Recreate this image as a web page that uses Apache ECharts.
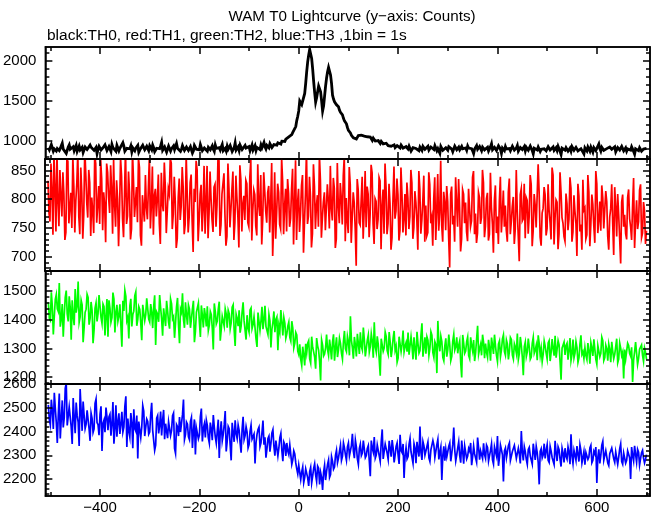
<!DOCTYPE html>
<html><head><meta charset="utf-8">
<script src="https://cdn.jsdelivr.net/npm/echarts@6/dist/echarts.min.js"></script>
<style>html,body{margin:0;padding:0;background:#fff}#c{width:652px;height:515px}</style>
</head><body><div id="c"></div>
<script>
const TITLE = 'WAM T0 Lightcurve (y\u2212axis: Counts)';
const SUBTITLE = 'black:TH0, red:TH1, green:TH2, blue:TH3 ,1bin = 1s';
const T_START = -504, T_STEP = 2;

const TH0 = [
912,885,880,951,934,869,897,920,871,902,925,876,903,937,968,894,889,915,842,861,
921,947,893,876,910,925,874,899,939,868,900,933,885,906,917,853,862,921,930,890,
896,872,944,918,908,941,879,897,915,838,891,930,927,884,870,912,903,949,936,878,
884,926,909,864,952,913,898,890,868,941,922,873,905,919,887,975,931,868,876,905,
915,889,899,934,861,910,928,874,907,925,941,856,883,902,897,942,919,887,872,930,
903,876,935,919,888,945,912,863,870,906,925,891,899,934,979,880,891,922,908,857,
879,932,918,870,901,916,935,889,866,964,905,912,927,867,893,938,913,878,882,920,
940,879,897,925,911,845,873,940,922,893,904,917,886,951,931,874,899,908,915,888,
868,917,926,887,907,936,893,867,945,904,880,929,912,883,921,952,874,898,903,871,
931,893,897,939,918,866,885,912,972,884,906,923,879,945,924,890,912,876,941,909,
893,918,928,874,910,945,884,903,937,877,916,935,902,889,946,912,889,977,925,897,
940,926,911,963,948,915,923,951,962,930,944,974,979,952,958,994,1003,972,991,1019,
1012,1031,1048,1029,1041,1075,1103,1109,1128,1176,1251,1305,1372,1495,1508,1452,1437,1461,1590,1718,
1862,1985,2071,2140,2158,2029,1897,1742,1605,1483,1538,1612,1683,1662,1611,1497,1372,1434,1556,1681,
1784,1862,1917,1935,1822,1716,1569,1521,1486,1462,1449,1438,1423,1381,1355,1340,1322,1279,1247,1231,
1211,1165,1128,1109,1097,1068,1049,1036,1041,1058,1022,1031,1063,1042,1047,1069,1079,1051,1058,1077,
1074,1049,1036,1058,1045,1020,1003,1031,1019,995,982,1004,1001,979,966,992,984,960,951,977,
968,944,937,962,959,931,925,950,948,913,917,939,941,921,909,945,932,907,903,926,
927,905,896,931,918,870,884,912,931,897,902,924,889,875,920,907,878,929,914,893,
895,918,930,882,871,921,908,896,889,937,926,874,900,911,843,928,917,880,893,905,
912,889,881,925,937,904,895,863,869,932,921,887,904,919,886,872,928,899,877,916,
909,880,934,907,882,921,900,873,839,896,915,938,892,867,927,905,874,919,903,885,
881,903,918,872,897,925,961,886,870,917,906,878,889,935,923,894,842,908,899,876,
927,896,885,921,902,874,868,931,916,882,893,908,939,870,877,915,908,889,886,927,
873,917,910,881,896,933,921,876,836,905,901,890,884,921,930,866,892,911,867,898,
915,872,888,925,904,883,862,908,921,878,896,912,878,929,911,865,828,906,897,888,
882,912,924,869,893,906,870,925,909,880,885,917,931,873,864,897,900,922,877,834,
910,887,872,921,897,869,919,894,858,913,889,876,905,888,958,902,871,916,893,879,
866,903,901,878,887,921,912,893,875,909,924,860,835,913,896,884,880,929,907,872,
893,910,869,897,914,874,881,923,900,866,833,899,906,885,876,912,921,868,884,895,
870,889,903];

const TH1 = [
832,776,761,862,815,738,878,819,744,884,796,753,851,806,770,847,809,729,742,871,
866,758,785,811,750,874,823,742,797,828,881,770,739,855,812,731,774,889,845,794,
768,851,829,736,803,780,741,877,862,759,790,823,757,868,836,746,812,790,725,862,
847,803,776,859,818,740,869,791,752,833,801,718,783,872,840,765,734,812,890,757,
771,848,812,730,748,884,833,769,796,821,760,872,855,737,719,807,806,761,842,785,
765,821,874,749,790,857,738,806,818,770,801,843,757,722,846,792,779,864,822,741,
744,818,809,871,863,748,774,839,797,715,731,803,836,764,788,856,820,739,756,877,
812,742,769,829,843,761,708,818,795,867,851,727,762,809,825,744,783,858,740,796,
858,732,776,848,801,764,743,821,826,752,790,873,867,736,755,809,811,845,772,719,
735,862,819,751,782,817,848,729,760,841,803,770,716,859,834,744,791,806,764,833,
827,759,752,838,869,728,781,816,808,753,737,861,790,771,842,721,766,847,814,779,
759,812,823,742,795,863,701,760,847,731,776,827,812,756,748,872,831,739,788,818,
744,835,810,752,766,818,853,721,791,868,729,793,818,743,775,824,842,707,760,811,
886,757,771,839,806,716,740,861,823,748,789,807,752,877,834,733,768,795,812,746,
745,826,797,749,858,784,763,837,819,715,731,863,790,758,828,802,756,841,874,727,
802,763,741,856,826,724,769,812,794,748,684,835,817,759,755,798,839,731,780,849,
751,822,809,734,773,860,846,757,722,801,796,748,765,838,832,713,788,817,740,862,
821,739,758,827,793,712,733,801,857,766,779,836,808,728,745,855,812,742,766,809,
737,829,802,748,770,851,829,731,751,814,795,763,712,849,818,740,763,797,841,726,
789,736,742,847,826,758,768,719,801,838,729,780,844,745,776,867,755,726,813,794,
746,823,797,733,681,809,822,756,771,726,838,793,752,835,786,709,731,817,809,758,
794,743,727,818,815,752,762,838,849,739,775,724,741,812,803,757,768,851,829,734,
753,801,811,728,739,846,786,757,707,798,824,741,770,722,797,839,742,776,815,752,
789,745,726,812,836,739,761,787,804,722,748,851,779,736,692,808,818,762,766,827,
732,803,798,740,771,842,826,718,745,809,790,751,753,861,812,734,719,776,784,821,
808,737,749,826,781,759,730,855,842,721,767,799,795,713,740,847,813,768,758,735,
727,810,792,746,765,838,819,726,743,807,779,758,701,827,806,744,756,712,834,781,
785,731,738,842,813,718,756,808,791,753,724,849,827,741,763,796,745,824,802,749,
749,814,796,735,712,769,784,826,757,703,821,787,735,809,773,731,688,795,808,752,
773,740,730,803,817,766,752,729,789,837,715,761,798,748,761,816,826,733,741,795,
779,722,745];

const TH2 = [
1461,1405,1398,1496,1447,1349,1412,1471,1488,1438,1429,1528,1376,1402,1455,1341,1417,1478,1502,1420,
1394,1482,1443,1330,1468,1412,1381,1507,1425,1447,1533,1391,1410,1468,1452,1322,1372,1426,1437,1489,
1478,1383,1405,1462,1433,1318,1364,1441,1459,1394,1421,1486,1491,1408,1387,1455,1446,1345,1413,1472,
1341,1468,1440,1391,1407,1495,1472,1356,1426,1452,1395,1413,1454,1380,1306,1466,1431,1503,1482,1397,
1409,1335,1448,1473,1377,1418,1430,1484,1497,1379,1401,1446,1436,1389,1329,1452,1458,1397,1418,1475,
1470,1402,1392,1455,1427,1371,1445,1485,1312,1427,1419,1393,1486,1442,1403,1344,1440,1409,1378,1466,
1432,1391,1369,1472,1455,1403,1411,1337,1389,1445,1476,1384,1318,1437,1426,1492,1401,1372,1461,1418,
1383,1451,1437,1372,1404,1437,1466,1322,1358,1426,1420,1458,1392,1340,1450,1415,1373,1441,1415,1377,
1447,1362,1381,1429,1418,1370,1296,1457,1429,1385,1395,1436,1463,1327,1366,1412,1408,1377,1438,1420,
1372,1433,1421,1368,1389,1444,1452,1364,1309,1419,1404,1378,1433,1355,1378,1427,1461,1396,1392,1331,
1416,1372,1357,1434,1441,1369,1383,1411,1405,1333,1305,1425,1428,1363,1396,1445,1367,1401,1449,1377,
1372,1349,1418,1396,1303,1367,1391,1429,1357,1401,1410,1294,1380,1359,1434,1392,1345,1408,1388,1336,
1351,1378,1392,1339,1326,1395,1371,1302,1318,1356,1347,1291,1279,1314,1262,1241,1306,1278,1241,1316,
1285,1318,1327,1264,1249,1341,1304,1288,1270,1229,1336,1309,1293,1255,1188,1330,1312,1274,1281,1302,
1348,1296,1276,1331,1301,1262,1322,1349,1257,1303,1339,1270,1296,1336,1318,1284,1263,1325,1361,1299,
1289,1343,1324,1276,1412,1329,1303,1264,1340,1312,1272,1351,1317,1281,1356,1306,1294,1373,1331,1272,
1268,1329,1347,1287,1306,1351,1326,1268,1391,1305,1287,1342,1314,1261,1205,1334,1336,1290,1302,1357,
1342,1292,1279,1357,1323,1270,1297,1336,1361,1294,1308,1252,1266,1341,1335,1289,1315,1362,1288,1308,
1320,1289,1355,1278,1274,1341,1308,1262,1339,1297,1261,1358,1317,1284,1293,1346,1388,1271,1305,1339,
1282,1341,1329,1276,1301,1358,1346,1285,1268,1323,1313,1214,1396,1317,1290,1343,1324,1269,1257,1308,
1335,1271,1296,1348,1311,1257,1272,1326,1349,1294,1306,1339,1283,1311,1327,1251,1199,1347,1318,1283,
1291,1324,1340,1275,1264,1339,1310,1291,1329,1256,1285,1333,1379,1280,1299,1314,1276,1348,1321,1266,
1317,1286,1269,1330,1302,1257,1338,1311,1281,1348,1309,1276,1254,1315,1326,1271,1295,1333,1347,1289,
1276,1329,1315,1262,1290,1338,1331,1277,1263,1316,1304,1284,1352,1261,1282,1340,1311,1270,1207,1306,
1322,1271,1288,1334,1305,1262,1270,1318,1339,1283,1294,1311,1259,1346,1317,1275,1301,1254,1280,1326,
1308,1284,1263,1319,1327,1256,1286,1333,1299,1275,1344,1268,1271,1327,1312,1254,1191,1301,1295,1322,
1277,1310,1318,1261,1295,1336,1258,1279,1331,1267,1284,1324,1303,1251,1267,1315,1346,1280,1289,1264,
1303,1275,1261,1319,1292,1247,1320,1301,1274,1332,1297,1262,1245,1310,1310,1271,1283,1339,1327,1258,
1268,1311,1298,1257,1315,1296,1252,1323,1290,1264,1279,1306,1334,1250,1263,1319,1301,1275,1287,1195,
1296,1263,1257,1318,1310,1282,1273,1304,1183,1259,1289,1322,1318,1244,1265,1297,1294,1312,1276,1255,
1301,1286,1262];

const TH3 = [
2512,2449,2428,2534,2489,2411,2563,2498,2437,2352,2470,2560,2371,2453,2531,2417,2458,2582,2604,2426,
2418,2503,2497,2419,2348,2541,2461,2393,2522,2468,2440,2339,2579,2487,2403,2526,2468,2412,2431,2489,
2490,2411,2361,2478,2456,2396,2411,2519,2537,2438,2429,2385,2473,2506,2318,2434,2448,2397,2501,2462,
2406,2461,2472,2383,2433,2524,2349,2412,2511,2378,2441,2477,2390,2430,2483,2398,2419,2506,2548,2335,
2455,2402,2377,2478,2436,2330,2494,2413,2402,2467,2287,2442,2447,2375,2418,2509,2486,2381,2389,2453,
2443,2389,2398,2470,2521,2405,2411,2321,2343,2456,2467,2392,2425,2484,2384,2447,2491,2368,2433,2402,
2372,2441,2448,2383,2405,2467,2478,2329,2308,2429,2420,2381,2461,2398,2395,2471,2535,2366,2387,2440,
2431,2378,2366,2442,2459,2331,2401,2451,2304,2415,2422,2369,2385,2463,2497,2358,2413,2432,2375,2448,
2426,2373,2351,2438,2410,2364,2469,2419,2378,2351,2402,2450,2289,2398,2443,2361,2388,2429,2486,2316,
2360,2422,2412,2343,2279,2437,2395,2357,2447,2391,2371,2428,2405,2352,2311,2409,2462,2366,2383,2421,
2398,2331,2345,2401,2427,2368,2361,2389,2266,2352,2388,2409,2419,2336,2352,2396,2446,2345,2376,2290,
2327,2371,2381,2315,2350,2394,2408,2338,2299,2362,2366,2297,2331,2374,2392,2321,2275,2356,2345,2298,
2352,2318,2303,2344,2337,2262,2281,2319,2306,2268,2243,2222,2259,2261,2198,2230,2251,2185,2207,2243,
2238,2205,2171,2232,2250,2184,2213,2245,2264,2218,2190,2255,2246,2178,2228,2207,2154,2230,2259,2196,
2232,2262,2281,2207,2219,2295,2276,2242,2251,2301,2322,2269,2288,2318,2343,2279,2296,2352,2331,2302,
2279,2336,2352,2298,2306,2341,2391,2317,2288,2364,2336,2285,2262,2329,2347,2299,2310,2362,2368,2290,
2299,2329,2341,2276,2212,2362,2330,2313,2377,2288,2301,2344,2352,2298,2275,2356,2409,2285,2318,2347,
2345,2308,2283,2361,2329,2294,2364,2331,2270,2302,2337,2352,2302,2264,2386,2320,2311,2348,2205,2297,
2332,2285,2295,2346,2371,2314,2309,2266,2349,2330,2267,2357,2324,2295,2421,2312,2281,2358,2340,2301,
2302,2337,2356,2289,2274,2323,2327,2362,2343,2291,2291,2345,2367,2283,2313,2335,2196,2300,2338,2278,
2326,2294,2289,2338,2352,2275,2308,2345,2417,2322,2276,2302,2331,2357,2299,2269,2362,2316,2265,2339,
2344,2285,2297,2329,2318,2352,2259,2294,2339,2306,2308,2271,2375,2333,2282,2319,2325,2286,2351,2303,
2287,2343,2333,2276,2299,2321,2348,2281,2263,2335,2316,2298,2381,2256,2290,2343,2324,2302,2190,2319,
2331,2289,2296,2341,2353,2278,2271,2316,2319,2342,2340,2287,2285,2330,2305,2266,2402,2313,2279,2337,
2316,2283,2262,2325,2334,2297,2297,2263,2349,2315,2281,2338,2311,2270,2178,2317,2328,2289,2302,2349,
2287,2321,2345,2279,2270,2338,2318,2291,2299,2262,2361,2311,2276,2336,2324,2283,2253,2330,2309,2270,
2330,2296,2284,2335,2312,2263,2389,2298,2266,2321,2301,2279,2339,2304,2274,2344,2320,2268,2291,2316,
2261,2312,2318,2283,2293,2331,2342,2269,2279,2317,2306,2335,2184,2292,2325,2266,2300,2343,2359,2280,
2284,2320,2316,2268,2257,2307,2301,2331,2337,2285,2270,2314,2309,2262,2292,2327,2348,2274,2263,2310,
2305,2267,2279,2319,2326,2290,2201,2335,2299,2276,2340,2304,2271,2325,2313,2259,2286,2311,2321,2288,
2268,2284,2303];

const X_LABELS = [-400,-200,0,200,400,600];
const X_MAJOR = [-400,-200,0,200,400,600];
const X_MINOR = [-500,-300,-100,100,300,500,700];
const Y_LABELS = [
  [1000,1500,2000],
  [700,750,800,850],
  [1200,1300,1400,1500],
  [2200,2300,2400,2500,2600]
];
const Y_MINOR = [
  [800,900,1100,1200,1300,1400,1600,1700,1800,1900,2100],
  [680,690,710,720,730,740,760,770,780,790,810,820,830,840,860,870],
  [1180,1220,1240,1260,1280,1320,1340,1360,1380,1420,1440,1460,1480,1520,1540,1560],
  [2140,2160,2180,2220,2240,2260,2280,2320,2340,2360,2380,2420,2440,2460,2480,2520,2540,2560,2580]
];
const SERIES = [TH0, TH1, TH2, TH3];
const COLORS = ['#000000', '#ff0000', '#00ff00', '#0000ff'];
const WIDTHS = [2.8, 1.7, 1.7, 1.7];

// layout
const X_MIN = -510, X_MAX = 707;
const Y_MIN = [771, 675, 1176, 2129];
const Y_MAX = [2171, 870, 1570, 2600];
const G_TOP = [47, 159, 271, 384];
const G_H = [112, 112, 113, 112];
const FONT = "'Liberation Sans', Arial, Helvetica, sans-serif";

const minus = v => String(v).replace('-', '\u2212');

function axis(kind, g, pos, ticks, len, labels, min, max, showLine) {
  return {
    type: 'value', gridIndex: g, position: pos, min: min, max: max,
    axisLine: { show: showLine, onZero: false, lineStyle: { color: '#000', width: 1.5 } },
    axisTick: { show: true, inside: true, length: len, customValues: ticks, lineStyle: { color: '#000', width: 1.5 } },
    axisLabel: labels ? {
      show: true, customValues: labels, formatter: minus, color: '#000',
      fontFamily: FONT, fontSize: 15, margin: kind === 'x' ? 4 : 9
    } : { show: false },
    splitLine: { show: false },
    z: 5
  };
}

const grids = [], xAxes = [], yAxes = [], series = [];
for (let g = 0; g < 4; g++) {
  grids.push({ left: 45, width: 605, top: G_TOP[g], height: G_H[g], show: true, borderColor: '#000', borderWidth: 1.5, containLabel: false });
  xAxes.push(axis('x', g, 'bottom', X_MAJOR, 7, g === 3 ? X_LABELS : null, X_MIN, X_MAX, true));
  xAxes.push(axis('x', g, 'bottom', X_MINOR, 4, null, X_MIN, X_MAX, false));
  xAxes.push(axis('x', g, 'top', X_MAJOR, 7, null, X_MIN, X_MAX, true));
  xAxes.push(axis('x', g, 'top', X_MINOR, 4, null, X_MIN, X_MAX, false));
  yAxes.push(axis('y', g, 'left', Y_LABELS[g], 7, Y_LABELS[g], Y_MIN[g], Y_MAX[g], true));
  yAxes.push(axis('y', g, 'left', Y_MINOR[g], 4, null, Y_MIN[g], Y_MAX[g], false));
  yAxes.push(axis('y', g, 'right', Y_LABELS[g], 7, null, Y_MIN[g], Y_MAX[g], true));
  yAxes.push(axis('y', g, 'right', Y_MINOR[g], 4, null, Y_MIN[g], Y_MAX[g], false));
  series.push({
    type: 'line', xAxisIndex: 4 * g, yAxisIndex: 4 * g,
    data: SERIES[g].map((v, i) => [T_START + T_STEP * i, v]),
    showSymbol: false, symbol: 'none', clip: true, sampling: null,
    lineStyle: { color: COLORS[g], width: WIDTHS[g], join: 'miter', cap: 'butt' },
    itemStyle: { color: COLORS[g] },
    z: 1
  });
}

const chart = echarts.init(document.getElementById('c'), null, { renderer: 'canvas' });
chart.setOption({
  animation: false,
  backgroundColor: '#ffffff',
  grid: grids, xAxis: xAxes, yAxis: yAxes, series: series,
  graphic: [
    { type: 'text', x: 352, y: 17, style: { text: TITLE, font: '15.2px ' + FONT, fill: '#000', textAlign: 'center', textVerticalAlign: 'middle' } },
    { type: 'text', x: 47, y: 36, style: { text: SUBTITLE, font: '15.5px ' + FONT, fill: '#000', textAlign: 'left', textVerticalAlign: 'middle' } }
  ]
});
</script>
</body></html>
